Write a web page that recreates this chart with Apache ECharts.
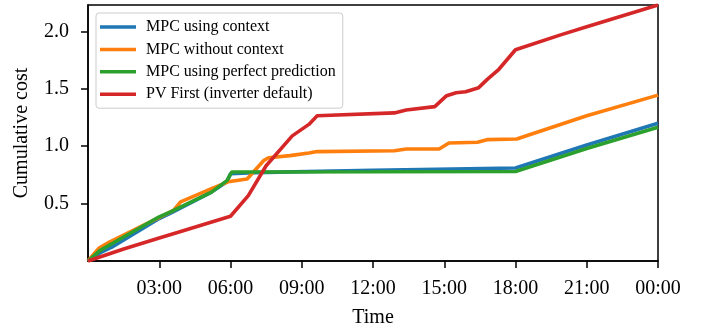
<!DOCTYPE html>
<html>
<head>
<meta charset="utf-8">
<script src="https://cdn.jsdelivr.net/npm/echarts@6/dist/echarts.min.js"></script>
<style>html,body{margin:0;padding:0;background:#fff}#c{width:710px;height:333px}</style>
</head>
<body>
<div id="c"></div>
<script>
// ---- data (hours since midnight, cumulative cost) ----
const seriesNames = ["MPC using context", "MPC without context", "MPC using perfect prediction", "PV First (inverter default)"];

const contextHours = [0, 0.5, 1, 3, 3.5, 5.2, 5.85, 6.0, 7, 12, 18, 21, 24];
const contextCost  = [0, 0.07, 0.12, 0.37, 0.42, 0.60, 0.69, 0.76, 0.77, 0.79, 0.81, 1.01, 1.20];

const noContextHours = [0, 0.45, 0.9, 3.6, 3.9, 5.2, 5.9, 6.7, 7.4, 7.6, 8.5, 9.3, 9.65, 12.9, 13.4, 14.8, 15.2, 16.4, 16.8, 18.05, 21, 24];
const noContextCost  = [0, 0.11, 0.165, 0.44, 0.515, 0.63, 0.69, 0.715, 0.875, 0.9, 0.918, 0.94, 0.953, 0.96, 0.975, 0.977, 1.028, 1.035, 1.057, 1.063, 1.265, 1.445];

const perfectHours = [0, 0.5, 1, 3, 3.5, 5.2, 5.85, 6.05, 7, 12, 18, 21, 24];
const perfectCost  = [0, 0.09, 0.15, 0.385, 0.43, 0.60, 0.70, 0.775, 0.775, 0.777, 0.78, 0.98, 1.165];

const pvHours = [0, 1.5, 3, 3.8, 6, 6.75, 7.5, 8.6, 9.3, 9.65, 12.9, 13.4, 14.6, 15.1, 15.5, 15.9, 16.45, 16.8, 17.3, 18, 19.9, 21, 24];
const pvCost  = [0, 0.105, 0.2, 0.25, 0.39, 0.57, 0.83, 1.09, 1.19, 1.265, 1.29, 1.315, 1.345, 1.44, 1.465, 1.475, 1.51, 1.58, 1.67, 1.84, 1.97, 2.04, 2.23];

const xTickValues = [3, 6, 9, 12, 15, 18, 21, 24];
const xTickLabels = ["03:00", "06:00", "09:00", "12:00", "15:00", "18:00", "21:00", "00:00"];
const yTickValues = [0.5, 1.0, 1.5, 2.0];

const colors = ["#1f77b4", "#ff7f0e", "#2ca02c", "#d62728"];

function pairs(h, v) { return h.map((x, i) => [x, v[i]]); }

const font = "Liberation Serif";
const chart = echarts.init(document.getElementById('c'), null, {renderer: 'canvas'});
const mk = (i, h, v) => ({
  name: seriesNames[i], type: 'line', data: pairs(h, v), symbol: 'none',
  lineStyle: {width: 3.6, color: colors[i]}, itemStyle: {color: colors[i]}, z: 2 + i
});
chart.setOption({
  animation: false,
  grid: {left: 88, right: 52, top: 5, bottom: 70, show: true, borderColor: '#000', borderWidth: 1.5, backgroundColor: 'transparent'},
  legend: {
    left: 96, top: 13, orient: 'vertical',
    icon: 'rect', itemWidth: 36, itemHeight: 3.5, itemGap: 6.4,
    padding: [6, 7, 6, 4],
    backgroundColor: 'rgba(255,255,255,0.8)', borderColor: '#cccccc', borderWidth: 1, borderRadius: 3,
    textStyle: {fontFamily: font, fontSize: 16, color: '#000', lineHeight: 16, padding: [0, 0, 0, 5]},
    data: seriesNames
  },
  xAxis: {
    type: 'value', min: 0, max: 24,
    name: 'Time', nameLocation: 'middle', nameGap: 47,
    nameTextStyle: {fontFamily: font, fontSize: 20, color: '#000'},
    axisLine: {show: true, onZero: false, lineStyle: {color: '#000', width: 1.5}},
    axisTick: {show: true, length: 7, lineStyle: {color: '#000', width: 1.5}, customValues: xTickValues},
    axisLabel: {fontFamily: font, fontSize: 20, color: '#000', margin: 18, customValues: xTickValues,
      formatter: v => { const i = xTickValues.indexOf(v); return i >= 0 ? xTickLabels[i] : ''; }},
    splitLine: {show: false}
  },
  yAxis: {
    type: 'value', min: 0, max: 2.23,
    name: 'Cumulative cost', nameLocation: 'middle', nameGap: 56,
    nameTextStyle: {fontFamily: font, fontSize: 20, color: '#000'},
    axisLine: {show: true, onZero: false, lineStyle: {color: '#000', width: 1.5}},
    axisTick: {show: true, length: 7, lineStyle: {color: '#000', width: 1.5}, customValues: yTickValues},
    axisLabel: {fontFamily: font, fontSize: 20, color: '#000', margin: 19, customValues: yTickValues,
      formatter: v => v.toFixed(1)},
    splitLine: {show: false}
  },
  series: [
    mk(0, contextHours, contextCost),
    mk(1, noContextHours, noContextCost),
    mk(2, perfectHours, perfectCost),
    mk(3, pvHours, pvCost)
  ]
});
</script>
</body>
</html>
